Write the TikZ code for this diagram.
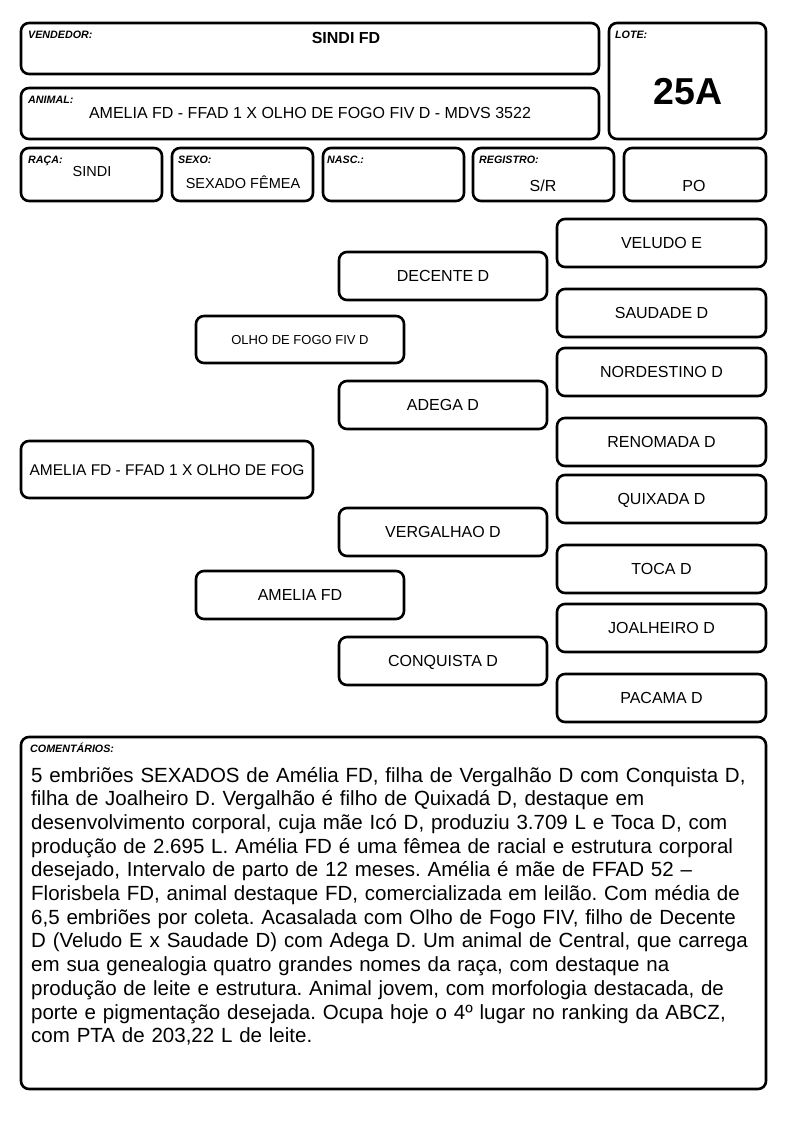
\documentclass[tikz,border=0pt]{standalone}
\usepackage{fontspec}
\setmainfont{Liberation Sans}
\usetikzlibrary{positioning}
\frenchspacing

\tikzset{
  card/.style={draw, line width=2.6pt, rounded corners=8pt, inner sep=0pt},
  tag/.style={font=\fontsize{10.7}{12}\selectfont\bfseries\itshape, anchor=base west, inner sep=0pt},
  entry/.style={font=\fontsize{16}{19}\selectfont, anchor=base, inner sep=0pt},
  ped/.style={card, minimum width=208pt, minimum height=48pt, font=\fontsize{16}{19}\selectfont, text height=11.5pt, text depth=0pt},
}

\begin{document}
\begin{tikzpicture}[x=1pt, y=-1pt]
      \useasboundingbox (0,0) rectangle (794,1123);
      % header
      \node[card, minimum width=578pt, minimum height=51pt] (vendor) at (310,48.5) {};
      \node[card, minimum width=157pt, minimum height=116pt] (lote) at (687.5,81) {};
      \node[card, minimum width=578pt, minimum height=51pt] (animal) at (310,113.5) {};
      \node[card, minimum width=141pt, minimum height=53pt] (raca) at (91.5,174.5) {};
      \node[card, minimum width=141pt, minimum height=53pt] (sexo) at (242.5,174.5) {};
      \node[card, minimum width=141pt, minimum height=53pt] (nasc) at (393.5,174.5) {};
      \node[card, minimum width=141pt, minimum height=53pt] (registro) at (543.5,174.5) {};
      \node[card, minimum width=142pt, minimum height=53pt] (po) at (695,174.5) {};
      \node[tag] (vendortag) at (28,39) {VENDEDOR:};
      \node[tag] (lotetag) at (615,39) {LOTE:};
      \node[tag] (animaltag) at (28,104) {ANIMAL:};
      \node[tag] (racatag) at (28,164) {RAÇA:};
      \node[tag] (sexotag) at (178,164) {SEXO:};
      \node[tag] (nasctag) at (327,164) {NASC.:};
      \node[tag] (registrotag) at (479,164) {REGISTRO:};
      \node[entry, font=\fontsize{16}{19}\selectfont\bfseries] (vendorname) at (346,44) {SINDI FD};
      \node[entry, font=\fontsize{37.5}{40}\selectfont\bfseries] (lotenum) at (688,105) {25A};
      \node[entry] (animalname) at (310,119) {AMELIA FD - FFAD 1 X OLHO DE FOGO FIV D - MDVS 3522};
      \node[entry, font=\fontsize{14.5}{17}\selectfont] (racaname) at (92,177) {SINDI};
      \node[entry, font=\fontsize{14.5}{17}\selectfont] (sexoname) at (243,189) {SEXADO FÊMEA};
      \node[entry] (registroname) at (543,192) {S/R};
      \node[entry] (poname) at (694,192) {PO};
      % pedigree
      \node[ped, minimum width=292pt, minimum height=57pt, font=\fontsize{15.5}{18}\selectfont] (root) at (167,469.5) {AMELIA FD - FFAD 1 X OLHO DE FOG};
      \node[ped, minimum height=47pt, font=\fontsize{13}{15}\selectfont, text height=9.3pt] (sire) at (300,339.5) {OLHO DE FOGO FIV D};
      \node[ped] (dam) at (300,595) {AMELIA FD};
      \node[ped] (siresire) at (443,276) {DECENTE D};
      \node[ped] (siredam) at (443,405) {ADEGA D};
      \node[ped] (damsire) at (443,532) {VERGALHAO D};
      \node[ped] (damdam) at (443,661) {CONQUISTA D};
      \node[ped, minimum width=209pt] (ssss) at (661.5,243) {VELUDO E};
      \node[ped, minimum width=209pt] (sssd) at (661.5,313) {SAUDADE D};
      \node[ped, minimum width=209pt] (ssds) at (661.5,372) {NORDESTINO D};
      \node[ped, minimum width=209pt] (ssdd) at (661.5,442) {RENOMADA D};
      \node[ped, minimum width=209pt] (sdss) at (661.5,499) {QUIXADA D};
      \node[ped, minimum width=209pt] (sdsd) at (661.5,569) {TOCA D};
      \node[ped, minimum width=209pt] (sdds) at (661.5,628) {JOALHEIRO D};
      \node[ped, minimum width=209pt] (sddd) at (661.5,698) {PACAMA D};
      % comments
      \node[card, minimum width=745pt, minimum height=352pt] (notes) at (393.5,913) {};
      \node[tag] (notestag) at (30,752) {COMENTÁRIOS:};
      \node[anchor=base west, inner sep=0pt, text width=740pt, align=left,
            font=\fontsize{20.5}{23.7}\selectfont] (notestext) at (31,782) {%
        5 embriões SEXADOS de Amélia FD, filha de Vergalhão D com Conquista D,\\
        filha de Joalheiro D. Vergalhão é filho de Quixadá D, destaque em\\
        desenvolvimento corporal, cuja mãe Icó D, produziu 3.709 L e Toca D, com\\
        produção de 2.695 L. Amélia FD é uma fêmea de racial e estrutura corporal\\
        desejado, Intervalo de parto de 12 meses. Amélia é mãe de FFAD 52 –\\
        Florisbela FD, animal destaque FD, comercializada em leilão. Com média de\\
        6,5 embriões por coleta. Acasalada com Olho de Fogo FIV, filho de Decente\\
        D (Veludo E x Saudade D) com Adega D. Um animal de Central, que carrega\\
        em sua genealogia quatro grandes nomes da raça, com destaque na\\
        produção de leite e estrutura. Animal jovem, com morfologia destacada, de\\
        porte e pigmentação desejada. Ocupa hoje o 4º lugar no ranking da ABCZ,\\
        com PTA de 203,22 L de leite.};
    \end{tikzpicture}
\end{document}
